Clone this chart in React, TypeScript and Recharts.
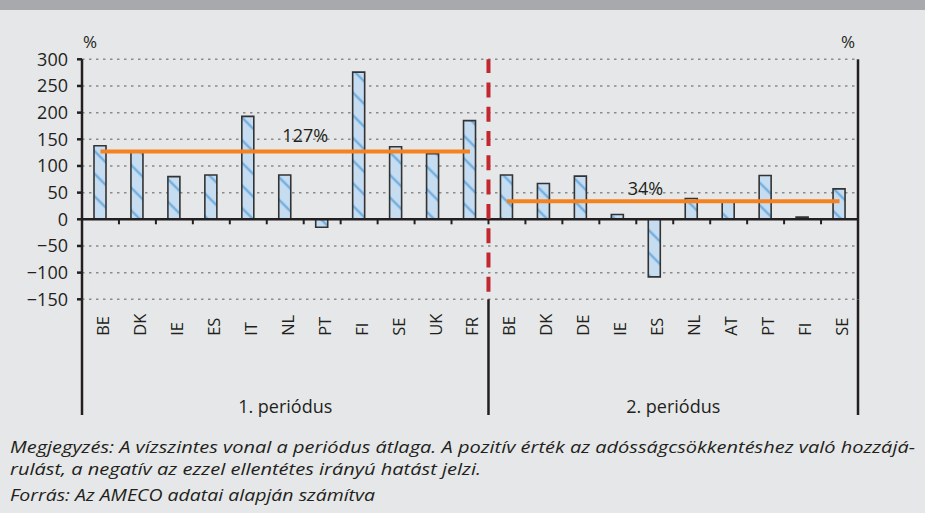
import React from "react";
import {
  ComposedChart,
  Bar,
  Line,
  XAxis,
  YAxis,
  CartesianGrid,
  ReferenceLine,
  Label,
} from "recharts";

// adatok (leolvasva az ábráról)
const countries1 = ["BE", "DK", "IE", "ES", "IT", "NL", "PT", "FI", "SE", "UK", "FR"];
const values1 = [138, 128, 80, 83, 193, 83, -15, 276, 136, 123, 185];
const countries2 = ["BE", "DK", "DE", "IE", "ES", "NL", "AT", "PT", "FI", "SE"];
const values2 = [83, 67, 81, 9, -108, 39, 33, 82, 4, 57];
const periodLabels = ["1. periódus", "2. periódus"];
const periodAverages = [127, 34];
const yTicks = [-150, -100, -50, 0, 50, 100, 150, 200, 250, 300];

const notes = [
  "Megjegyzés: A vízszintes vonal a periódus átlaga. A pozitív érték az adósságcsökkentéshez való hozzájá-",
  "rulást, a negatív az ezzel ellentétes irányú hatást jelzi.",
  "Forrás: Az AMECO adatai alapján számítva",
];

const data = [
  ...countries1.map((c, i) => ({
    key: `1-${c}`,
    country: c,
    value: values1[i],
    avg1: periodAverages[0],
    avg2: null,
  })),
  ...countries2.map((c, i) => ({
    key: `2-${c}`,
    country: c,
    value: values2[i],
    avg1: null,
    avg2: periodAverages[1],
  })),
];

const INK = "#231f20";
const FONT = "'Open Sans', sans-serif";
const PLOT_W = 776;
const PLOT_H = 240;
const STEP = PLOT_W / data.length;
const HALF = STEP / 2;
const ZERO_UP = (150 / 450) * PLOT_H; // zero line distance above plot bottom
const SEP_DOWN = 115.7; // separator length below plot bottom
const N1 = countries1.length;

const fmt = (v: number) => (v < 0 ? `\u2212${Math.abs(v)}` : `${v}`);

function CategoryTick(props: any) {
  const { x, y, payload } = props;
  const i = payload.index;
  const row = data[i];
  const last = data.length - 1;
  return (
    <g>
      <text
        x={x + 8.5}
        y={y + 36.5}
        transform={`rotate(-90, ${x + 8.5}, ${y + 36.5})`}
        textAnchor="start"
        fontSize={16.5}
        fontFamily={FONT}
        fill={INK}
      >
        {row.country}
      </text>
      {i < last && (
        <line x1={x + HALF} x2={x + HALF} y1={y - ZERO_UP} y2={y - ZERO_UP + 5} stroke={INK} strokeWidth={2} />
      )}
      {i === 0 && <line x1={x - HALF} x2={x - HALF} y1={y} y2={y + SEP_DOWN} stroke={INK} strokeWidth={2.5} />}
      {(i === N1 - 1 || i === last) && (
        <line x1={x + HALF} x2={x + HALF} y1={y} y2={y + SEP_DOWN} stroke={INK} strokeWidth={2.5} />
      )}
      {i === 5 && (
        <text x={x} y={y + 114} textAnchor="middle" fontSize={18} fontFamily={FONT} fill={INK}>
          {periodLabels[0]}
        </text>
      )}
      {i === 15 && (
        <text x={x + HALF} y={y + 114} textAnchor="middle" fontSize={18} fontFamily={FONT} fill={INK}>
          {periodLabels[1]}
        </text>
      )}
    </g>
  );
}

const avgLabel = (showIndex: number, dx: number, dy: number) => (p: any) =>
  p.index === showIndex ? (
    <text x={p.x + dx} y={p.y + dy} textAnchor="middle" fontSize={18} fontFamily={FONT} fill={INK}>
      {`${p.value}%`}
    </text>
  ) : null;

const unitLabel = (side: "left" | "right") => (p: any) => {
  const vb = p.viewBox;
  const x = side === "left" ? vb.x + vb.width + 8 : vb.x - 10;
  return (
    <text x={x} y={vb.y - 11} textAnchor="middle" fontSize={17} fontFamily={FONT} fill={INK}>
      %
    </text>
  );
};

export default function App() {
  const tickStyle = { fontSize: 18, fill: INK, fontFamily: FONT };
  return (
    <div
      style={{
        position: "absolute",
        left: 0,
        top: 0,
        width: 925,
        height: 513,
        background: "#e6e7e8",
        overflow: "hidden",
        fontFamily: FONT,
      }}
    >
      <div style={{ position: "absolute", left: 0, top: 0, width: 925, height: 10, background: "#a7a9ac" }} />
      <div style={{ position: "absolute", left: 0, top: 0 }}>
        <ComposedChart
          width={925}
          height={420}
          data={data}
          margin={{ top: 59.3, right: 7, bottom: 0.7, left: 22 }}
        >
          <defs>
            <pattern
              id="hatch"
              patternUnits="userSpaceOnUse"
              width={16}
              height={16}
              patternTransform="rotate(-45)"
            >
              <rect width={16} height={16} fill="#c6dcf1" />
              <line x1={8} y1={0} x2={8} y2={16} stroke="#74b0df" strokeWidth={2.5} />
            </pattern>
          </defs>
          <CartesianGrid vertical={false} stroke="#8a8a8a" strokeDasharray="2.5 4.5" strokeWidth={1.5} />
          <XAxis
            dataKey="key"
            interval={0}
            height={120}
            axisLine={false}
            tickLine={false}
            tickSize={0}
            tickMargin={0}
            tick={<CategoryTick />}
          />
          <YAxis
            width={60}
            domain={[-150, 300]}
            ticks={yTicks}
            interval={0}
            tickFormatter={fmt}
            tick={tickStyle}
            tickSize={5}
            tickMargin={9}
            axisLine={{ stroke: INK, strokeWidth: 2.5 }}
            tickLine={{ stroke: INK, strokeWidth: 2.5 }}
          >
            <Label content={unitLabel("left")} />
          </YAxis>
          <YAxis
            yAxisId="right"
            orientation="right"
            width={60}
            domain={[-150, 300]}
            ticks={yTicks}
            interval={0}
            tickFormatter={fmt}
            tick={tickStyle}
            tickSize={5}
            tickMargin={9}
            axisLine={{ stroke: INK, strokeWidth: 2.5 }}
            tickLine={{ stroke: INK, strokeWidth: 2.5 }}
          >
            <Label content={unitLabel("right")} />
          </YAxis>
          <ReferenceLine y={0} stroke={INK} strokeWidth={2.5} />
          <Bar
            dataKey="value"
            barSize={12}
            fill="url(#hatch)"
            stroke="#333333"
            strokeWidth={1.6}
            isAnimationActive={false}
          />
          <Line
            dataKey="avg1"
            stroke="#f58220"
            strokeWidth={4}
            dot={false}
            activeDot={false}
            connectNulls={false}
            isAnimationActive={false}
            label={avgLabel(5, 20, -9.6)}
          />
          <Line
            dataKey="avg2"
            stroke="#f58220"
            strokeWidth={4}
            dot={false}
            activeDot={false}
            connectNulls={false}
            isAnimationActive={false}
            label={avgLabel(15, -9.3, -6)}
          />
          <ReferenceLine
            x={data[N1 - 1].key}
            position="end"
            stroke="#c1272d"
            strokeWidth={4}
            strokeDasharray="15 9.3"
            strokeDashoffset={16.8}
          />
        </ComposedChart>
      </div>
      <svg
        width={925}
        height={93}
        style={{ position: "absolute", left: 0, top: 420 }}
        fontFamily={FONT}
        fontStyle="italic"
        fontSize={16.5}
        fill={INK}
      >
        <text x={10} y={32.7} textLength={905} lengthAdjust="spacingAndGlyphs">
          {notes[0]}
        </text>
        <text x={10} y={55} textLength={471} lengthAdjust="spacingAndGlyphs">
          {notes[1]}
        </text>
        <text x={10} y={81} textLength={365} lengthAdjust="spacingAndGlyphs">
          {notes[2]}
        </text>
      </svg>
    </div>
  );
}
